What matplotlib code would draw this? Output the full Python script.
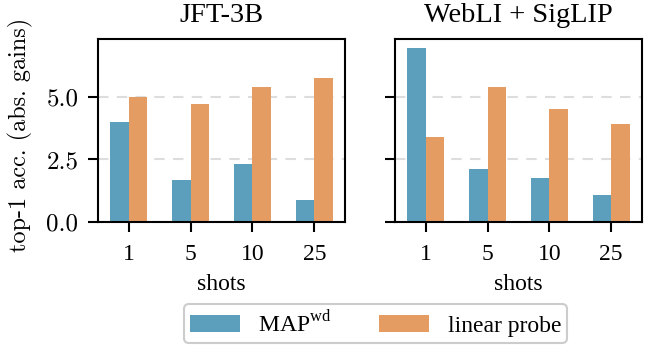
import numpy as np
import matplotlib
matplotlib.use("Agg")
import matplotlib.pyplot as plt

# data
shots = ["1", "5", "10", "25"]
datasets = ["JFT-3B", "WebLI + SigLIP"]
map_wd = {
    "JFT-3B": [4.0, 1.7, 2.3, 0.9],
    "WebLI + SigLIP": [6.95, 2.1, 1.75, 1.1],
}
linear_probe = {
    "JFT-3B": [5.0, 4.7, 5.4, 5.75],
    "WebLI + SigLIP": [3.4, 5.4, 4.5, 3.9],
}
yticks = [0.0, 2.5, 5.0]

blue = "#5b9fbc"
orange = "#e59c63"

plt.rcParams["font.family"] = ["Liberation Serif", "DejaVu Serif"]
plt.rcParams["mathtext.fontset"] = "custom"
plt.rcParams["mathtext.rm"] = "Liberation Serif"
plt.rcParams["font.size"] = 17

fig, axes = plt.subplots(1, 2, figsize=(6.48, 3.46), dpi=100, sharey=True)
fig.subplots_adjust(left=0.151, right=0.991, top=0.887, bottom=0.358, wspace=0.2)

x = np.arange(len(shots))
w = 0.3
for ax, name in zip(axes, datasets):
    ax.bar(x - w, map_wd[name], w, align="edge", color=blue, label=r"MAP$^{\mathrm{wd}}$")
    ax.bar(x, linear_probe[name], w, align="edge", color=orange, label="linear probe")
    ax.set_xticks(x)
    ax.set_xticklabels(shots)
    ax.set_xlim(-0.5, 3.5)
    ax.set_ylim(0, 7.3)
    ax.set_yticks(yticks)
    ax.yaxis.grid(True, linestyle=(0, (5, 4)), color="#dddddd", linewidth=1.5)
    ax.set_axisbelow(True)
    ax.set_title(name, pad=12)
    ax.set_xlabel("shots", labelpad=6)
    ax.tick_params(length=7, width=1.5)
    ax.tick_params(axis="x", pad=9)
    ax.tick_params(axis="y", pad=7)
    for s in ax.spines.values():
        s.set_linewidth(1.5)
# y tick labels and y label are set in computer modern in the original
axes[0].set_yticklabels(["%.1f" % v for v in yticks], family="cmr10", size=18)
axes[0].set_ylabel("top-1 acc. (abs. gains)", family="cmr10", size=17.5)
axes[0].yaxis.set_label_coords(-0.262, 0.475)

handles, labels = axes[0].get_legend_handles_labels()
leg = fig.legend(handles, labels, loc="lower center", bbox_to_anchor=(0.5795, 0.009),
                 borderaxespad=0, ncol=2, handlelength=2.1, handletextpad=0.8,
                 columnspacing=2.0, borderpad=0.25, fancybox=True,
                 edgecolor="#cccccc", framealpha=1)
leg.get_frame().set_linewidth(1.5)

fig.savefig("out.png", dpi=100)
